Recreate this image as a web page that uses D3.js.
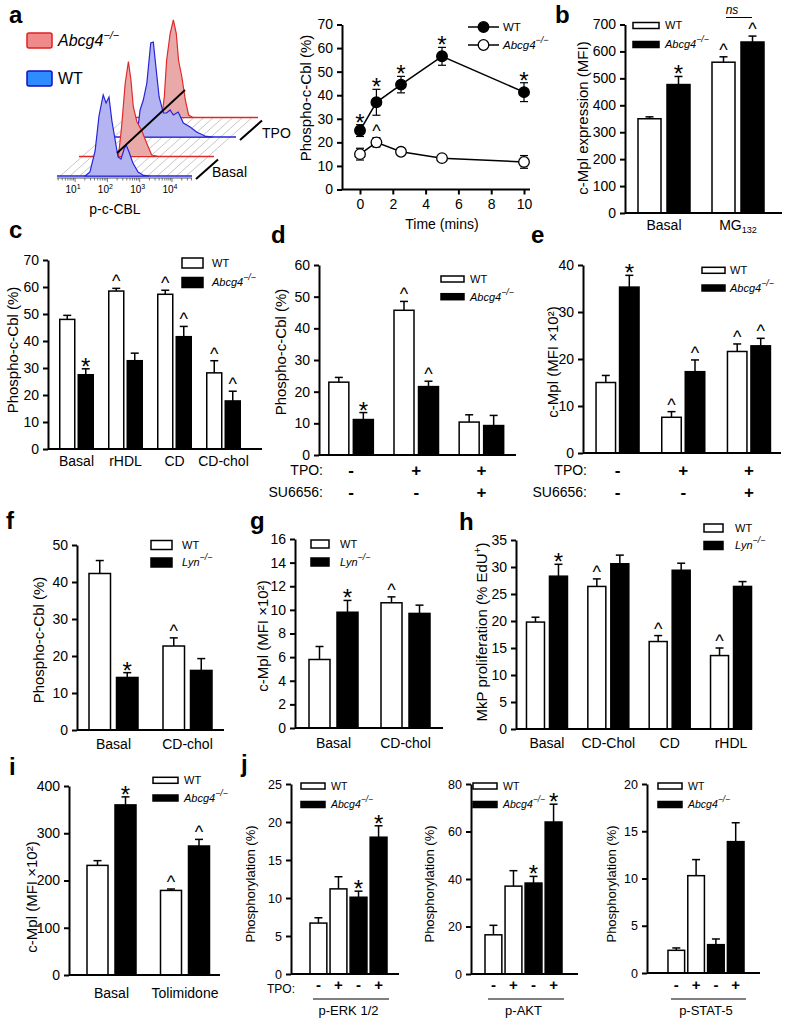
<!DOCTYPE html>
<html><head><meta charset="utf-8">
<script src="https://cdn.jsdelivr.net/npm/d3@7/dist/d3.min.js"></script>
<style>
html,body{margin:0;padding:0;background:#fff;}
svg{display:block;font-family:"Liberation Sans",Arial,Helvetica,sans-serif;}
</style></head><body>
<svg id="fig" width="787" height="1027"></svg>
<script>
// ================= DATA =================
// Panel a (left): flow histograms [log10 fluorescence, relative count]
const flowWTBasal = [[1.31,0],[1.46,4],[1.62,25],[1.74,60],[1.87,81],[1.96,73],[2.05,79],[2.14,55],[2.24,36],[2.33,19],[2.42,17],[2.52,27],[2.58,31],[2.67,24],[2.79,13],[2.95,4],[3.1,1],[3.3,0]];
const flowKOBasal = [[1.66,0],[1.76,30],[1.87,73],[1.97,95],[2.05,76],[2.12,50],[2.23,35],[2.38,26],[2.54,13],[2.69,1.5],[2.9,0]];
const flowWTTPO   = [[1.55,0],[1.65,27],[1.75,37],[1.86,54],[1.98,94],[2.06,95],[2.14,70],[2.24,40],[2.37,24],[2.47,24],[2.58,27],[2.68,22],[2.83,25],[2.99,14],[3.2,10],[3.4,5],[3.66,1],[3.9,0]];
const flowKOTPO   = [[1.64,0],[1.72,21],[1.79,57],[1.9,84],[2.0,97.5],[2.09,84],[2.16,57],[2.26,41],[2.37,17.5],[2.47,2.5],[2.6,0]];
const flowGate = [[1,1.62,3.5],[3,2.36,27.5]]; // [layer, log10, height]
const flowDecades = [1,2,3,4];

// Panel a (right): phospho-c-Cbl time course
const timeMins = [0,1,2.5,5,10];
const aWT = [25,37,44.5,56.5,41.3], aWTerr = [2.5,5.5,3.5,3.8,4], aWTsig = ['*','*','*','*','*'];
const aKO = [15,20,16,13.3,11.7], aKOerr = [2.5,2,1,1,2.7], aKOsig = ['','^','','',''];

// Panel b
const bCats = ['Basal','MG_132'];
const bWT = [350,560], bWTerr = [7,20], bWTsig = ['','^'];
const bKO = [477,635], bKOerr = [30,22], bKOsig = ['*','^'];

// Panel c
const cCats = ['Basal','rHDL','CD','CD-chol'];
const cWT = [48,58.5,57.3,28.2], cWTerr = [1.5,1,1.5,4.5], cWTsig = ['','^','^','^'];
const cKO = [27.5,32.7,41.6,17.8], cKOerr = [2.2,2.8,3.8,3.6], cKOsig = ['*','','^','^'];

// Panel d
const dTPO = ['-','+','+'], dSU = ['-','-','+'];
const dWT = [23,45.7,10.4], dWTerr = [1.5,2.8,2.3], dWTsig = ['','^',''];
const dKO = [11.2,21.6,9.3], dKOerr = [2.2,1.7,3.2], dKOsig = ['*','^',''];

// Panel e
const eTPO = ['-','+','+'], eSU = ['-','-','+'];
const eWT = [15,7.6,21.6], eWTerr = [1.5,1.2,1.6], eWTsig = ['','^','^'];
const eKO = [35.3,17.3,22.8], eKOerr = [2.5,2.5,1.6], eKOsig = ['*','^','^'];

// Panel f
const fCats = ['Basal','CD-chol'];
const fWT = [42.3,22.7], fWTerr = [3.5,2.2], fWTsig = ['','^'];
const fKO = [14.2,16.1], fKOerr = [1.3,3.2], fKOsig = ['*',''];

// Panel g
const gCats = ['Basal','CD-chol'];
const gWT = [5.8,10.6], gWTerr = [1.1,0.5], gWTsig = ['','^'];
const gKO = [9.8,9.7], gKOerr = [1.0,0.7], gKOsig = ['*',''];

// Panel h
const hCats = ['Basal','CD-Chol','CD','rHDL'];
const hWT = [19.8,26.4,16.2,13.6], hWTerr = [0.9,1.4,1.1,1.4], hWTsig = ['','^','^','^'];
const hKO = [28.3,30.6,29.4,26.4], hKOerr = [2.2,1.6,1.3,0.9], hKOsig = ['*','','',''];

// Panel i
const iCats = ['Basal','Tolimidone'];
const iWT = [232,179], iWTerr = [10,3], iWTsig = ['','^'];
const iKO = [360,273], iKOerr = [17,14], iKOsig = ['*','^'];

// Panel j
const jTPO = ['-','+','-','+'];
const jGeno = ['WT','WT','KO','KO'];
const jERK = [6.7,11.2,10.1,18.0], jERKerr = [0.7,1.6,0.8,1.5], jERKsig = ['','','*','*'];
const jAKT = [16.5,37,38.3,64], jAKTerr = [4,6.5,2.8,7.5], jAKTsig = ['','','*','*'];
const jSTAT = [2.4,10.3,3.0,13.9], jSTATerr = [0.25,1.7,0.6,2.0], jSTATsig = ['','','',''];

// ================= DRAWING =================
const svg = d3.select('#fig');

function addGeno(t, name, supSize) {
  if (name === 'WT') { t.append('tspan').text('WT'); return; }
  t.append('tspan').attr('font-style','italic').text(name);
  t.append('tspan').attr('font-style','italic').attr('font-size', supSize).attr('dy', -supSize*0.7).text('\u2212/\u2212');
}

function legend(g, x, boxW, boxH, yc, textX, names, fs) {
  names.forEach((n,i) => {
    g.append('rect').attr('x',x).attr('y',yc[i]-boxH/2).attr('width',boxW).attr('height',boxH)
      .attr('fill', i===0 ? '#fff' : '#000').attr('stroke','#000').attr('stroke-width',1.5);
    const t = g.append('text').attr('x',textX).attr('y',yc[i]+fs*0.36).attr('font-size',fs);
    addGeno(t, n, fs*0.8);
  });
}

function yLabel(g, cx, cy, fs, build) {
  const t = g.append('text').attr('transform',`translate(${cx},${cy}) rotate(-90)`)
    .attr('text-anchor','middle').attr('dy','0.35em').attr('font-size',fs);
  if (typeof build === 'string') t.text(build); else build(t);
}

function yAxis(g, x, y, step, fs) {
  const [d0,d1] = y.domain();
  const ax = d3.axisLeft(y).tickValues(d3.range(d0, d1+step/2, step)).tickSize(5).tickSizeOuter(0).tickPadding(4);
  const a = g.append('g').attr('transform',`translate(${x},0)`).call(ax);
  a.attr('font-family',null).attr('font-size',null);
  a.select('.domain').attr('stroke-width',2);
  a.selectAll('.tick line').attr('stroke-width',2);
  a.selectAll('.tick text').attr('font-size',fs).attr('fill','#000');
  return a;
}

function sigMark(g, cx, top, s) {
  if (!s) return;
  if (s === '*') g.append('text').attr('x',cx).attr('y',top+6).attr('text-anchor','middle').attr('font-size',24).text('*');
  else g.append('text').attr('x',cx).attr('y',top-1).attr('text-anchor','middle').attr('font-size',18).text('^');
}

function bar(g, x, w, y, v, e, fill, s) {
  g.append('rect').attr('x',x).attr('y',y(v)).attr('width',w).attr('height',y(0)-y(v))
    .attr('fill',fill).attr('stroke','#000').attr('stroke-width',1.5);
  const cx = x+w/2, top = y(v+e);
  g.append('line').attr('x1',cx).attr('x2',cx).attr('y1',y(v)).attr('y2',top).attr('stroke','#000').attr('stroke-width',1.5);
  g.append('line').attr('x1',cx-4).attr('x2',cx+4).attr('y1',top).attr('y2',top).attr('stroke','#000').attr('stroke-width',1.5);
  sigMark(g, cx, top, s);
}

function catLabel(g, x, y, s, fs) {
  const t = g.append('text').attr('x',x).attr('y',y).attr('text-anchor','middle').attr('font-size',fs);
  const [main, sub] = s.split('_');
  t.append('tspan').text(main);
  if (sub) t.append('tspan').attr('font-size',fs*0.65).attr('dy',3).text(sub);
}

function groupedBars(g, o) {
  const gx = d3.scaleBand().domain(d3.range(o.n)).range(o.range);
  const gs = gx.bandwidth(), st = o.barW + o.gap, pi = o.gap/st;
  const po = (gs/st - o.series.length + pi)/2;
  const bx = d3.scaleBand().domain(d3.range(o.series.length)).range([0,gs]).paddingInner(pi).paddingOuter(po);
  o.series.forEach((s,si) => s.vals.forEach((v,ci) =>
    bar(g, gx(ci)+bx(si), bx.bandwidth(), o.y, v, s.errs[ci], s.fill, s.sig[ci])));
  g.append('line').attr('x1',o.axisX).attr('x2',o.axisEnd).attr('y1',o.y(0)).attr('y2',o.y(0))
    .attr('stroke','#000').attr('stroke-width',2);
  return d => gx(d) + gs/2;
}

function panelLetter(x, y, s) {
  svg.append('text').attr('x',x).attr('y',y).attr('font-size',24).attr('font-weight','bold').text(s);
}

// ---------- Panel a: flow histograms ----------
(function(){
  const g = svg.append('g');
  const hx = d3.scaleLinear().domain([0.44, 4.62]).range([57, 192]);
  const hy = d3.scaleLinear().domain([0, 100]).range([0, -100]);
  const base0 = 176, dX = 22, dY = -19.5;
  const layers = [
    {pts: flowWTBasal, fill:'#b4b4f2', stroke:'#2424d8'},
    {pts: flowKOBasal, fill:'#e9a9a9', stroke:'#e02a2a'},
    {pts: flowWTTPO,   fill:'#b4b4f2', stroke:'#2424d8'},
    {pts: flowKOTPO,   fill:'#e9a9a9', stroke:'#e02a2a'}
  ];
  const [lx0, lx1] = hx.domain();
  const hatch = d3.range(lx0 + 0.1, lx1, 0.3);
  hatch.forEach(v => {
    g.append('line').attr('x1',hx(v)).attr('y1',base0).attr('x2',hx(v)+3*dX).attr('y2',base0+3*dY)
      .attr('stroke','#c8c8c8').attr('stroke-width',1);
  });
  const area = d3.area().x(d => hx(d[0])).y0(0).y1(d => hy(d[1]));
  for (let i = layers.length-1; i >= 0; i--) {
    const L = layers[i];
    const lg = g.append('g').attr('transform',`translate(${dX*i},${base0 + dY*i})`);
    lg.append('line').attr('x1',hx(lx0)).attr('x2',hx(lx1)).attr('y1',0).attr('y2',0)
      .attr('stroke', L.stroke).attr('stroke-width',1.5);
    lg.append('path').datum(L.pts).attr('d', area).attr('fill', L.fill).attr('stroke', L.stroke).attr('stroke-width',1.2);
  }
  [[0,1],[2,3]].forEach(([a,b]) => {
    g.append('line').attr('x1',hx(lx1)+dX*a+4).attr('y1',base0+dY*a+3).attr('x2',hx(lx1)+dX*b+4).attr('y2',base0+dY*b+3)
      .attr('stroke','#000').attr('stroke-width',2);
  });
  g.append('text').attr('x',hx(lx1)+20).attr('y',base0+1).attr('font-size',14).text('Basal');
  g.append('text').attr('x',hx(lx1)+2*dX+26).attr('y',base0+2*dY+1).attr('font-size',14).text('TPO');
  g.append('line')
    .attr('x1',hx(flowGate[0][1])+dX*flowGate[0][0]).attr('y1',base0+dY*flowGate[0][0]+hy(flowGate[0][2]))
    .attr('x2',hx(flowGate[1][1])+dX*flowGate[1][0]).attr('y2',base0+dY*flowGate[1][0]+hy(flowGate[1][2]))
    .attr('stroke','#000').attr('stroke-width',1.8);
  const ay = base0 + 2;
  g.append('line').attr('x1',hx(lx0)).attr('x2',hx(lx1)).attr('y1',ay).attr('y2',ay).attr('stroke','#555').attr('stroke-width',1);
  const minor = [];
  d3.range(0,5).forEach(dec => d3.range(1,10).forEach(k => { const v = dec + Math.log10(k); if (v >= lx0 && v <= lx1) minor.push(v); }));
  minor.forEach(v => g.append('line').attr('x1',hx(v)).attr('x2',hx(v)).attr('y1',ay).attr('y2',ay+(Number.isInteger(v)?4:2.5)).attr('stroke','#555').attr('stroke-width',0.8));
  flowDecades.forEach(d => {
    const t = g.append('text').attr('x',hx(d)-2).attr('y',ay+15).attr('text-anchor','middle').attr('font-size',10);
    t.append('tspan').text('10');
    t.append('tspan').attr('font-size',7).attr('dy',-4).text(d);
  });
  g.append('text').attr('x',115).attr('y',214).attr('text-anchor','middle').attr('font-size',14).text('p-c-CBL');
  g.append('rect').attr('x',27).attr('y',33).attr('width',25).attr('height',15).attr('rx',2)
    .attr('fill','#f08a8a').attr('stroke','#e02020').attr('stroke-width',1.5);
  g.append('rect').attr('x',27).attr('y',71).attr('width',25).attr('height',15).attr('rx',2)
    .attr('fill','#2f8cff').attr('stroke','#1010c0').attr('stroke-width',1.5);
  const t1 = g.append('text').attr('x',58).attr('y',46).attr('font-size',16);
  t1.append('tspan').attr('font-style','italic').text('Abcg4');
  t1.append('tspan').attr('font-style','italic').attr('font-size',11).attr('dy',-7).text('\u2212/\u2212');
  g.append('text').attr('x',58).attr('y',84).attr('font-size',16).text('WT');
})();

// ---------- Panel a: time course ----------
(function(){
  const g = svg.append('g');
  const x = d3.scaleLinear().domain([0,10]).range([360,524]);
  const y = d3.scaleLinear().domain([0,70]).range([189.5,24.5]);
  yAxis(g, 342, y, 10, 14);
  g.append('line').attr('x1',342).attr('x2',530).attr('y1',y(0)).attr('y2',y(0)).attr('stroke','#000').attr('stroke-width',2);
  const xa = g.append('g').attr('transform',`translate(0,${y(0)})`)
    .call(d3.axisBottom(x).tickValues([0,2,4,6,8,10]).tickSize(5).tickSizeOuter(0).tickPadding(5));
  xa.attr('font-family',null).attr('font-size',null);
  xa.select('.domain').remove();
  xa.selectAll('.tick line').attr('stroke-width',2);
  xa.selectAll('.tick text').attr('font-size',14).attr('fill','#000');
  g.append('text').attr('x',442).attr('y',229).attr('text-anchor','middle').attr('font-size',14).text('Time (mins)');
  yLabel(g, 306, 98, 15, 'Phospho-c-Cbl (%)');
  const line = d3.line().x((d,i) => x(timeMins[i])).y(d => y(d));
  [[aKO,aKOerr,aKOsig,'#fff'],[aWT,aWTerr,aWTsig,'#000']].forEach(([vals,errs,sigs,fill]) => {
    g.append('path').datum(vals).attr('d',line).attr('fill','none').attr('stroke','#000').attr('stroke-width',1.5);
    vals.forEach((v,i) => {
      const cx = x(timeMins[i]);
      g.append('line').attr('x1',cx).attr('x2',cx).attr('y1',y(v-errs[i])).attr('y2',y(v+errs[i])).attr('stroke','#000').attr('stroke-width',1.2);
      [v-errs[i], v+errs[i]].forEach(e => g.append('line').attr('x1',cx-4).attr('x2',cx+4).attr('y1',y(e)).attr('y2',y(e)).attr('stroke','#000').attr('stroke-width',1.2));
      g.append('circle').attr('cx',cx).attr('cy',y(v)).attr('r',5.3).attr('fill',fill).attr('stroke','#000').attr('stroke-width',1.3);
      sigMark(g, cx, y(v+errs[i]), sigs[i]);
    });
  });
  [['WT','#000',27],['Abcg4','#fff',45]].forEach(([n,fill,yy]) => {
    g.append('line').attr('x1',468).attr('x2',499).attr('y1',yy).attr('y2',yy).attr('stroke','#000').attr('stroke-width',1.5);
    g.append('circle').attr('cx',483.5).attr('cy',yy).attr('r',5.3).attr('fill',fill).attr('stroke','#000').attr('stroke-width',1.3);
    const t = g.append('text').attr('x',503).attr('y',yy+4).attr('font-size',11.5);
    addGeno(t, n, 9);
  });
})();

// ---------- Panel b ----------
(function(){
  const g = svg.append('g');
  const y = d3.scaleLinear().domain([0,700]).range([213,24.5]);
  yAxis(g, 625, y, 100, 14);
  const cx = groupedBars(g, {n:2, y, range:[627,775], barW:23, gap:6, axisX:625, axisEnd:782,
    series:[{vals:bWT,errs:bWTerr,sig:bWTsig,fill:'#fff'},{vals:bKO,errs:bKOerr,sig:bKOsig,fill:'#000'}]});
  bCats.forEach((c,i) => catLabel(g, cx(i), 230, c, 14));
  yLabel(g, 583, 118, 15, 'c-Mpl expression (MFI)');
  legend(g, 633, 26, 6, [25.5,44.5], 665, ['WT','Abcg4'], 11);
  g.append('line').attr('x1',cx(1)-12).attr('x2',cx(1)+14).attr('y1',17.5).attr('y2',17.5).attr('stroke','#000').attr('stroke-width',1);
  g.append('text').attr('x',cx(1)-6).attr('y',14).attr('text-anchor','middle').attr('font-size',12).attr('font-style','italic').text('ns');
})();

// ---------- Panel c ----------
(function(){
  const g = svg.append('g');
  const y = d3.scaleLinear().domain([0,70]).range([449,260]);
  yAxis(g, 48, y, 10, 14);
  const cx = groupedBars(g, {n:4, y, range:[52,248], barW:15, gap:3.5, axisX:48, axisEnd:262,
    series:[{vals:cWT,errs:cWTerr,sig:cWTsig,fill:'#fff'},{vals:cKO,errs:cKOerr,sig:cKOsig,fill:'#000'}]});
  cCats.forEach((c,i) => catLabel(g, cx(i), 466, c, 14));
  yLabel(g, 13, 350, 15, 'Phospho-c-Cbl (%)');
  legend(g, 182, 21, 10, [263,282.5], 212, ['WT','Abcg4'], 11);
})();

// ---------- Panel d ----------
(function(){
  const g = svg.append('g');
  const y = d3.scaleLinear().domain([0,60]).range([455,265]);
  yAxis(g, 319, y, 10, 14);
  const cx = groupedBars(g, {n:3, y, range:[318.5,514], barW:20, gap:4.5, axisX:319, axisEnd:516,
    series:[{vals:dWT,errs:dWTerr,sig:dWTsig,fill:'#fff'},{vals:dKO,errs:dKOerr,sig:dKOsig,fill:'#000'}]});
  g.append('text').attr('x',323).attr('y',475).attr('text-anchor','end').attr('font-size',14).text('TPO:');
  g.append('text').attr('x',323).attr('y',497).attr('text-anchor','end').attr('font-size',14).text('SU6656:');
  dTPO.forEach((s,i) => g.append('text').attr('x',cx(i)).attr('y',476).attr('text-anchor','middle').attr('font-size',17).attr('font-weight','bold').text(s));
  dSU.forEach((s,i) => g.append('text').attr('x',cx(i)).attr('y',498).attr('text-anchor','middle').attr('font-size',17).attr('font-weight','bold').text(s));
  yLabel(g, 281, 352, 15, 'Phospho-c-Cbl (%)');
  legend(g, 441, 23, 6, [279,296.7], 470, ['WT','Abcg4'], 11);
})();

// ---------- Panel e ----------
(function(){
  const g = svg.append('g');
  const y = d3.scaleLinear().domain([0,40]).range([453,265]);
  yAxis(g, 583, y, 10, 14);
  const cx = groupedBars(g, {n:3, y, range:[584.7,781.8], barW:19.5, gap:4, axisX:583, axisEnd:781,
    series:[{vals:eWT,errs:eWTerr,sig:eWTsig,fill:'#fff'},{vals:eKO,errs:eKOerr,sig:eKOsig,fill:'#000'}]});
  g.append('text').attr('x',587).attr('y',475).attr('text-anchor','end').attr('font-size',14).text('TPO:');
  g.append('text').attr('x',587).attr('y',497).attr('text-anchor','end').attr('font-size',14).text('SU6656:');
  eTPO.forEach((s,i) => g.append('text').attr('x',cx(i)).attr('y',476).attr('text-anchor','middle').attr('font-size',17).attr('font-weight','bold').text(s));
  eSU.forEach((s,i) => g.append('text').attr('x',cx(i)).attr('y',498).attr('text-anchor','middle').attr('font-size',17).attr('font-weight','bold').text(s));
  yLabel(g, 553, 362, 15, 'c-Mpl (MFI \u00d710\u00b2)');
  legend(g, 702, 23, 6, [270.3,288], 730, ['WT','Abcg4'], 11);
})();

// ---------- Panel f ----------
(function(){
  const g = svg.append('g');
  const y = d3.scaleLinear().domain([0,50]).range([730,545]);
  yAxis(g, 77, y, 10, 14);
  const cx = groupedBars(g, {n:2, y, range:[76.5,224.5], barW:21.5, gap:6, axisX:77, axisEnd:224,
    series:[{vals:fWT,errs:fWTerr,sig:fWTsig,fill:'#fff'},{vals:fKO,errs:fKOerr,sig:fKOsig,fill:'#000'}]});
  fCats.forEach((c,i) => catLabel(g, cx(i), 749, c, 14));
  yLabel(g, 39, 640, 15, 'Phospho-c-Cbl (%)');
  legend(g, 151, 21, 9, [545,562.5], 182, ['WT','Lyn'], 11);
})();

// ---------- Panel g ----------
(function(){
  const g = svg.append('g');
  const y = d3.scaleLinear().domain([0,16]).range([728,539]);
  yAxis(g, 295, y, 2, 14);
  const cx = groupedBars(g, {n:2, y, range:[297.5,441.5], barW:21, gap:7, axisX:295, axisEnd:443,
    series:[{vals:gWT,errs:gWTerr,sig:gWTsig,fill:'#fff'},{vals:gKO,errs:gKOerr,sig:gKOsig,fill:'#000'}]});
  gCats.forEach((c,i) => catLabel(g, cx(i), 748, c, 14));
  yLabel(g, 263, 636, 15, 'c-Mpl (MFI \u00d710\u00b2)');
  legend(g, 311, 18, 8, [544,562], 340, ['WT','Lyn'], 11);
})();

// ---------- Panel h ----------
(function(){
  const g = svg.append('g');
  const y = d3.scaleLinear().domain([0,35]).range([729,540]);
  yAxis(g, 516, y, 5, 14);
  const cx = groupedBars(g, {n:4, y, range:[516.3,761.7], barW:18, gap:5, axisX:516, axisEnd:752,
    series:[{vals:hWT,errs:hWTerr,sig:hWTsig,fill:'#fff'},{vals:hKO,errs:hKOerr,sig:hKOsig,fill:'#000'}]});
  hCats.forEach((c,i) => catLabel(g, cx(i), 748, c, 14));
  yLabel(g, 482, 632, 15, t => {
    t.append('tspan').text('MkP proliferation (% EdU');
    t.append('tspan').attr('font-size',10).attr('dy',-6).text('+');
    t.append('tspan').attr('dy',6).text(')');
  });
  legend(g, 704, 19, 8, [528,545.5], 735, ['WT','Lyn'], 11);
})();

// ---------- Panel i ----------
(function(){
  const g = svg.append('g');
  const y = d3.scaleLinear().domain([0,400]).range([975,786]);
  yAxis(g, 69, y, 100, 14);
  const cx = groupedBars(g, {n:2, y, range:[74.75,221.75], barW:21, gap:7, axisX:69, axisEnd:220,
    series:[{vals:iWT,errs:iWTerr,sig:iWTsig,fill:'#fff'},{vals:iKO,errs:iKOerr,sig:iKOsig,fill:'#000'}]});
  iCats.forEach((c,i) => catLabel(g, cx(i), 998, c, 14));
  yLabel(g, 32, 897, 15, 'c-Mpl (MFI \u00d710\u00b2)');
  legend(g, 153, 25, 6, [780.3,798], 184, ['WT','Abcg4'], 11);
})();

// ---------- Panel j ----------
function jPanel(o) {
  const g = svg.append('g');
  yAxis(g, o.axisX, o.y, o.step, 12.5);
  const x = d3.scaleBand().domain(d3.range(o.vals.length)).range(o.range).paddingInner(0.16).paddingOuter(0.08);
  o.vals.forEach((v,i) => bar(g, x(i), x.bandwidth(), o.y, v, o.errs[i], jGeno[i]==='WT' ? '#fff' : '#000', o.sig[i]));
  g.append('line').attr('x1',o.axisX).attr('x2',o.axisEnd).attr('y1',o.y(0)).attr('y2',o.y(0)).attr('stroke','#000').attr('stroke-width',2);
  jTPO.forEach((s,i) => g.append('text').attr('x',x(i)+x.bandwidth()/2).attr('y',990).attr('text-anchor','middle').attr('font-size',15).attr('font-weight','bold').text(s));
  g.append('line').attr('x1',x(0)+3).attr('x2',x(o.vals.length-1)+x.bandwidth()+2).attr('y1',999).attr('y2',999).attr('stroke','#000').attr('stroke-width',1.2);
  g.append('text').attr('x',(x(0)+x(o.vals.length-1)+x.bandwidth())/2).attr('y',1015).attr('text-anchor','middle').attr('font-size',13).text(o.name);
  yLabel(g, o.labelX, 884, 13, 'Phosphorylation (%)');
  legend(g, o.legX, 24, 6, [786,804.5], o.legX+30, ['WT','Abcg4'], 10.5);
  return g;
}
const j1 = jPanel({vals:jERK, errs:jERKerr, sig:jERKsig, y:d3.scaleLinear().domain([0,25]).range([974,784]), step:5,
  axisX:291, axisEnd:399, range:[308.4,388.6], name:'p-ERK 1/2', labelX:250, legX:301});
j1.append('text').attr('x',295).attr('y',993).attr('text-anchor','end').attr('font-size',12).text('TPO:');
jPanel({vals:jAKT, errs:jAKTerr, sig:jAKTsig, y:d3.scaleLinear().domain([0,80]).range([974,784]), step:20,
  axisX:471, axisEnd:578, range:[483.4,563.6], name:'p-AKT', labelX:429, legX:473});
jPanel({vals:jSTAT, errs:jSTATerr, sig:jSTATsig, y:d3.scaleLinear().domain([0,20]).range([973,784]), step:5,
  axisX:647, axisEnd:760, range:[666.4,745.6], name:'p-STAT-5', labelX:611, legX:658});

// ---------- Panel letters ----------
panelLetter(9,23,'a'); panelLetter(555,23,'b'); panelLetter(9,238,'c'); panelLetter(271,243,'d');
panelLetter(531,243,'e'); panelLetter(6,529,'f'); panelLetter(250,529,'g'); panelLetter(459,530,'h');
panelLetter(9,775,'i'); panelLetter(241,772,'j');
</script></body></html>
